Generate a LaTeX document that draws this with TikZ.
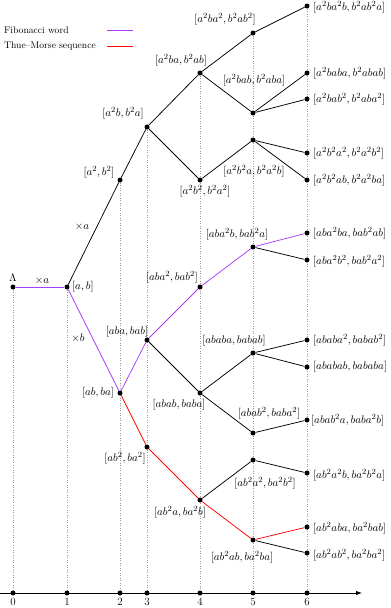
\documentclass[tikz,border=0pt]{standalone}
\usetikzlibrary{arrows.meta,backgrounds}
\definecolor{fib}{RGB}{170,60,250}
\begin{document}
\begin{tikzpicture}[x=1pt,y=-1pt,
  every node/.style={font=\fontsize{11}{13.5}\selectfont},
  dot/.style={circle,fill=black,inner sep=0pt,minimum size=5pt},
  lbl/.style={inner sep=0pt},
  lblw/.style={inner sep=0pt,anchor=west},
  legtext/.style={inner sep=0pt,anchor=west,font=\fontsize{9.6}{12}\selectfont},
  edge/.style={line width=0.75pt},
  fibe/.style={line width=0.75pt,draw=fib},
  tme/.style={line width=0.75pt,draw=red},
  guide/.style={draw=gray!80,dotted,line width=0.5pt}]
\useasboundingbox (0,0) rectangle (391,608);

% legend
\node[legtext] (legf) at (4,30.5) {Fibonacci word};
\node[legtext] (legt) at (4,46.5) {Thue--Morse sequence};
\coordinate (lf1) at (107,30); \coordinate (lf2) at (133,30);
\coordinate (lt1) at (107,46.5); \coordinate (lt2) at (133,46.5);
\draw[draw=fib,line width=1pt] (lf1) -- (lf2);
\draw[draw=red,line width=1pt] (lt1) -- (lt2);

% nodes
\node[dot] (L) at (13,287) {};
\node[dot] (n1) at (67,287) {};
\node[dot] (n2) at (120,180) {};
\node[dot] (n3) at (147,127) {};
\node[dot] (n4) at (200,73) {};
\node[dot] (n5) at (253,33) {};
\node[dot] (n6) at (307,6) {};
\node[dot] (n7) at (253,113) {};
\node[dot] (n8) at (307,73) {};
\node[dot] (n9) at (307,99) {};
\node[dot] (n10) at (200,180) {};
\node[dot] (n11) at (253,140) {};
\node[dot] (n12) at (307,153) {};
\node[dot] (n13) at (307,180) {};
\node[dot] (m1) at (200,287) {};
\node[dot] (m2) at (253,247) {};
\node[dot] (m3) at (307,233) {};
\node[dot] (m4) at (307,260) {};
\node[dot] (p1) at (120,393) {};
\node[dot] (p2) at (147,340) {};
\node[dot] (p3) at (147,447) {};
\node[dot] (p4) at (200,393) {};
\node[dot] (p5) at (253,353) {};
\node[dot] (p6) at (307,340) {};
\node[dot] (p7) at (307,367) {};
\node[dot] (p8) at (253,433) {};
\node[dot] (p9) at (307,420) {};
\node[dot] (p10) at (200,500) {};
\node[dot] (p11) at (253,460) {};
\node[dot] (p12) at (307,473) {};
\node[dot] (p13) at (253,540) {};
\node[dot] (p14) at (307,527) {};
\node[dot] (p15) at (307,553) {};

% axis
\coordinate (ax0) at (0,593);
\coordinate (ax1) at (362,593);
\draw[line width=0.8pt,-{Latex[length=6pt,width=4.5pt]}] (ax0) -- (ax1);
\node[dot,label={[label distance=-1pt]below:0}] (t0) at (13,593) {};
\node[dot,label={[label distance=-1pt]below:1}] (t1) at (67,593) {};
\node[dot,label={[label distance=-1pt]below:2}] (t2) at (120,593) {};
\node[dot,label={[label distance=-1pt]below:3}] (t3) at (147,593) {};
\node[dot,label={[label distance=-1pt]below:4}] (t4) at (200,593) {};
\node[dot,label={[label distance=-1pt]below:5}] (t5) at (253,593) {};
\node[dot,label={[label distance=-1pt]below:6}] (t6) at (307,593) {};

% guides
\begin{scope}[on background layer]
\draw[guide] (L) -- (t0);
\draw[guide] (n1) -- (t1);
\draw[guide] (n2) -- (t2);
\draw[guide] (n3) -- (t3);
\draw[guide] (n4) -- (t4);
\draw[guide] (n5) -- (t5);
\draw[guide] (n6) -- (t6);
\end{scope}

% edges
\draw[fibe] (L) -- (n1);
\draw[edge] (n1) -- (n2);
\draw[edge] (n2) -- (n3);
\draw[edge] (n3) -- (n4);
\draw[edge] (n3) -- (n10);
\draw[edge] (n4) -- (n5);
\draw[edge] (n4) -- (n7);
\draw[edge] (n5) -- (n6);
\draw[edge] (n7) -- (n8);
\draw[edge] (n7) -- (n9);
\draw[edge] (n10) -- (n11);
\draw[edge] (n11) -- (n12);
\draw[edge] (n11) -- (n13);
\draw[fibe] (n1) -- (p1);
\draw[fibe] (p1) -- (p2);
\draw[fibe] (p2) -- (m1);
\draw[fibe] (m1) -- (m2);
\draw[fibe] (m2) -- (m3);
\draw[edge] (m2) -- (m4);
\draw[edge] (p2) -- (p4);
\draw[edge] (p4) -- (p5);
\draw[edge] (p5) -- (p6);
\draw[edge] (p5) -- (p7);
\draw[edge] (p4) -- (p8);
\draw[edge] (p8) -- (p9);
\draw[tme] (p1) -- (p3);
\draw[tme] (p3) -- (p10);
\draw[edge] (p10) -- (p11);
\draw[edge] (p11) -- (p12);
\draw[tme] (p10) -- (p13);
\draw[tme] (p13) -- (p14);
\draw[edge] (p13) -- (p15);

% edge labels
\node[lbl] (lLam) at (13,278) {$\Lambda$};
\node[lbl] (e1) at (42,281) {$\times a$};
\node[lbl] (e2) at (82,227) {$\times a$};
\node[lbl] (e3) at (78,338) {$\times b$};

% node labels
\node[lblw] (ln1) at (72,287) {$[a,b]$};
\node[lbl] (ln2) at (99,172) {$[a^2,b^2]$};
\node[lbl] (ln3) at (123,113) {$[a^2b,b^2a]$};
\node[lbl] (ln4) at (181,60) {$[a^2ba,b^2ab]$};
\node[lbl] (ln5) at (225,19) {$[a^2ba^2,b^2ab^2]$};
\node[lblw] (ln6) at (313,7) {$[a^2ba^2b,b^2ab^2a]$};
\node[lbl] (ln7) at (254,80) {$[a^2bab,b^2aba]$};
\node[lblw] (ln8) at (313,73) {$[a^2baba,b^2abab]$};
\node[lblw] (ln9) at (313,99) {$[a^2bab^2,b^2aba^2]$};
\node[lbl] (ln10) at (205,191) {$[a^2b^2,b^2a^2]$};
\node[lbl] (ln11) at (254,171) {$[a^2b^2a,b^2a^2b]$};
\node[lblw] (ln12) at (313,153) {$[a^2b^2a^2,b^2a^2b^2]$};
\node[lblw] (ln13) at (313,180) {$[a^2b^2ab,b^2a^2ba]$};
\node[lbl] (lm1) at (172,277) {$[aba^2,bab^2]$};
\node[lbl] (lm2) at (237,234) {$[aba^2b,bab^2a]$};
\node[lblw] (lm3) at (313,233) {$[aba^2ba,bab^2ab]$};
\node[lblw] (lm4) at (313,261) {$[aba^2b^2,bab^2a^2]$};
\node[lbl] (lp1) at (98,393) {$[ab,ba]$};
\node[lbl] (lp2) at (127,332) {$[aba,bab]$};
\node[lbl] (lp3) at (125,458) {$[ab^2,ba^2]$};
\node[lbl] (lp4) at (179,405) {$[abab,baba]$};
\node[lbl] (lp5) at (234,341) {$[ababa,babab]$};
\node[lblw] (lp6) at (313,340) {$[ababa^2,babab^2]$};
\node[lblw] (lp7) at (313,367) {$[ababab,bababa]$};
\node[lbl] (lp8) at (269,413) {$[abab^2,baba^2]$};
\node[lblw] (lp9) at (311,420) {$[abab^2a,baba^2b]$};
\node[lbl] (lp10) at (180,512) {$[ab^2a,ba^2b]$};
\node[lbl] (lp11) at (265,483) {$[ab^2a^2,ba^2b^2]$};
\node[lblw] (lp12) at (313,475) {$[ab^2a^2b,ba^2b^2a]$};
\node[lbl] (lp13) at (242,557) {$[ab^2ab,ba^2ba]$};
\node[lblw] (lp14) at (313,528) {$[ab^2aba,ba^2bab]$};
\node[lblw] (lp15) at (313,555) {$[ab^2ab^2,ba^2ba^2]$};
\end{tikzpicture}
\end{document}
